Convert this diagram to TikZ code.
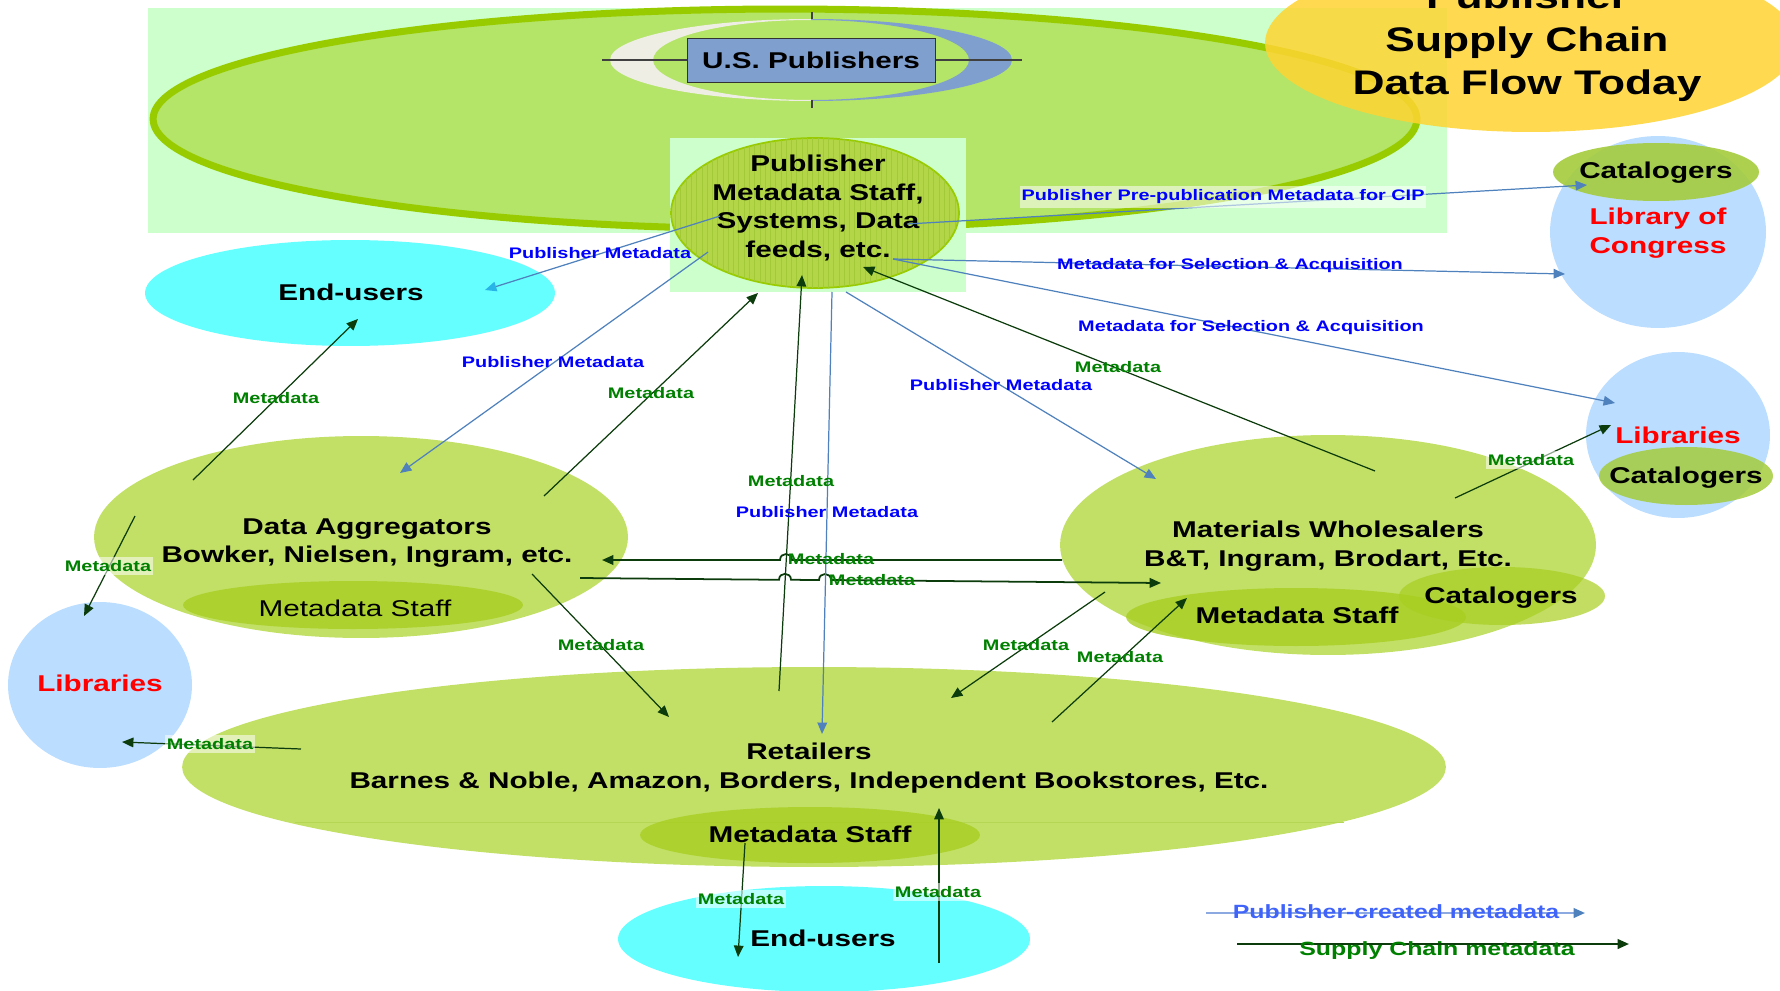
\documentclass[tikz,border=0pt]{standalone}
\usepackage{fontspec}
\setmainfont{Liberation Sans}[FakeStretch=1.3]
\usepackage{tikz}
\usetikzlibrary{shapes.geometric,arrows.meta,patterns}
\definecolor{bandgreen}{RGB}{204,255,204}
\definecolor{bigfill}{RGB}{180,228,104}
\definecolor{bigline}{RGB}{153,204,0}
\definecolor{pubfill}{RGB}{178,214,72}
\definecolor{pubhatch}{RGB}{162,202,56}
\definecolor{chainfill}{RGB}{194,223,102}
\definecolor{stafffill}{RGB}{168,206,32}
\definecolor{catfill}{RGB}{164,204,60}
\definecolor{userscyan}{RGB}{102,255,255}
\definecolor{libblue}{RGB}{187,221,255}
\definecolor{boxblue}{RGB}{127,159,207}
\definecolor{swooshwhite}{RGB}{238,238,228}
\definecolor{titleyellow}{RGB}{255,212,50}
\definecolor{blueline}{RGB}{79,129,189}
\definecolor{legendline}{RGB}{140,170,225}
\definecolor{greenline}{RGB}{12,60,12}
\definecolor{labelblue}{RGB}{0,0,255}
\definecolor{labelgreen}{RGB}{0,128,0}
\definecolor{legendblue}{RGB}{64,100,250}
\definecolor{headcyan}{RGB}{40,180,230}
\definecolor{seam}{RGB}{180,214,84}
\tikzstyle{blob}=[ellipse, inner sep=0pt, outer sep=0pt]
\tikzstyle{bigtext}=[font=\bfseries\fontsize{13}{16.4}\selectfont, align=center, inner sep=0pt]
\tikzstyle{plaintext}=[font=\fontsize{13}{16.4}\selectfont, inner sep=0pt]
\tikzstyle{legendtext}=[font=\bfseries\fontsize{10.9}{13}\selectfont, inner sep=0pt]
\tikzstyle{bluearrow}=[blueline, line width=0.7pt, -{Triangle[length=6.5pt, width=5.5pt]}]
\tikzstyle{greenarrow}=[greenline, line width=0.7pt, -{Triangle[length=6.5pt, width=5.5pt]}]
\tikzstyle{bluelabel}=[text=labelblue, font=\bfseries\fontsize{8.7}{10}\selectfont, inner xsep=1pt, inner ysep=2pt]
\tikzstyle{greenlabel}=[text=labelgreen, font=\bfseries\fontsize{8.7}{10}\selectfont, inner xsep=1pt, inner ysep=2pt]
\tikzstyle{lightbox}=[fill=white, fill opacity=0.55, text opacity=1]
\begin{document}
\begin{tikzpicture}[x=0.02cm, y=-0.02cm]
        \useasboundingbox (0,0) rectangle (1780,990);
        \fill[bandgreen] (148,8) rectangle (1447,233);
        \node[blob, draw=bigline, line width=4pt, fill=bigfill, minimum width=25.28cm, minimum height=4.4cm] (chain) at (785,119) {};
        \begin{scope}
            \clip (600,0) rectangle (811,130);
            \fill[swooshwhite, even odd rule] (811,60) ellipse (201 and 41) (811,60) ellipse (158 and 40);
        \end{scope}
        \begin{scope}
            \clip (811,0) rectangle (1030,130);
            \fill[boxblue, even odd rule] (811,60) ellipse (201 and 41) (811,60) ellipse (158 and 40);
        \end{scope}
        \draw[black!75, line width=0.7pt] (602,60) -- (1022,60);
        \draw[black!75, line width=0.7pt] (812,12) -- (812,19);
        \draw[black!75, line width=0.7pt] (812,100) -- (812,108);
        \node[draw=black!80, fill=boxblue, minimum width=4.96cm, minimum height=0.88cm, inner sep=0pt, font=\bfseries\fontsize{13}{16}\selectfont] (usPub) at (811,60) {U.S. Publishers};
        \fill[bandgreen] (670,138) rectangle (966,292);
        \node[blob, draw=bigline, line width=1pt, fill=pubfill, postaction={pattern=vertical lines, pattern color=pubhatch}, minimum width=5.76cm, minimum height=3cm] (pub) at (815,213) {};
        \node[blob, fill=titleyellow, fill opacity=0.85, minimum width=10.64cm, minimum height=3.56cm] (title) at (1531,43) {};
        \node[blob, fill=libblue, minimum width=4.32cm, minimum height=3.84cm] (loc) at (1658,232) {};
        \node[blob, fill=catfill, fill opacity=0.9, minimum width=4.12cm, minimum height=1.16cm] (locCat) at (1656,172) {};
        \node[blob, fill=userscyan, minimum width=8.2cm, minimum height=2.12cm] (endTop) at (350,293) {};
        \node[blob, fill=chainfill, minimum width=10.68cm, minimum height=4.04cm] (agg) at (361,537) {};
        \node[blob, fill=stafffill, fill opacity=0.8, minimum width=6.8cm, minimum height=0.96cm] (aggStaff) at (353,605) {};
        \node[blob, fill=libblue, minimum width=3.68cm, minimum height=3.32cm] (libLeft) at (100,685) {};
        \node[blob, fill=chainfill, minimum width=10.72cm, minimum height=4.4cm] (whole) at (1328,545) {};
        \node[blob, fill=stafffill, fill opacity=0.8, minimum width=6.8cm, minimum height=1.16cm] (wholeStaff) at (1296,617) {};
        \node[blob, fill=stafffill, fill opacity=0.7, minimum width=4.12cm, minimum height=1.16cm] (wholeCat) at (1502,596) {};
        \node[blob, fill=libblue, minimum width=3.68cm, minimum height=3.32cm] (libRight) at (1678,435) {};
        \node[blob, fill=catfill, fill opacity=0.85, minimum width=3.48cm, minimum height=1.16cm] (libRightCat) at (1686,476) {};
        \node[blob, fill=chainfill, minimum width=25.28cm, minimum height=4cm] (retail) at (814,767) {};
        \draw[seam, line width=0.5pt] (295,822) -- (1344,822);
        \node[blob, fill=stafffill, fill opacity=0.8, minimum width=6.8cm, minimum height=1.12cm] (retailStaff) at (810,835) {};
        \node[blob, fill=userscyan, minimum width=8.24cm, minimum height=2.12cm] (endBottom) at (824,939) {};
        \node[font=\bfseries\fontsize{19.4}{24.4}\selectfont, align=center, inner sep=0pt] (titleText) at (1527,43) {Publisher\\Supply Chain\\Data Flow Today};
        \node[bigtext] (pubText) at (818,208) {Publisher\\Metadata Staff,\\Systems, Data\\feeds, etc.};
        \node[bigtext, text=red] (locText) at (1658,233) {Library of\\Congress};
        \node[bigtext, anchor=base] (locCatText) at (1656,178) {Catalogers};
        \node[bigtext, anchor=base] (endTopText) at (351,300) {End-users};
        \node[bigtext] (aggText) at (367,543) {Data Aggregators\\Bowker, Nielsen, Ingram, etc.};
        \node[plaintext, anchor=base] (aggStaffText) at (355,616) {Metadata Staff};
        \node[bigtext, anchor=base, text=red] (libLeftText) at (100,691) {Libraries};
        \node[bigtext] (wholeText) at (1328,546) {Materials Wholesalers\\B\&T, Ingram, Brodart, Etc.};
        \node[bigtext, anchor=base] (wholeStaffText) at (1297,623) {Metadata Staff};
        \node[bigtext, anchor=base] (wholeCatText) at (1501,603) {Catalogers};
        \node[bigtext, anchor=base, text=red] (libRightText) at (1678,443) {Libraries};
        \node[bigtext, anchor=base] (libRightCatText) at (1686,483) {Catalogers};
        \node[bigtext] (retailText) at (809,768) {Retailers\\Barnes \& Noble, Amazon, Borders, Independent Bookstores, Etc.};
        \node[bigtext, anchor=base] (retailStaffText) at (810,842) {Metadata Staff};
        \node[bigtext, anchor=base] (endBottomText) at (823,946) {End-users};
        \coordinate (pubA) at (720,216);
        \coordinate (pubB) at (708,252);
        \coordinate (pubC) at (758,293);
        \coordinate (pubD) at (802,275);
        \coordinate (pubE) at (832,292);
        \coordinate (pubF) at (846,292);
        \coordinate (pubG) at (863,267);
        \coordinate (pubH) at (907,224);
        \coordinate (pubI) at (893,259);
        \coordinate (endTopIn) at (485,290);
        \coordinate (endTopOut) at (358,319);
        \coordinate (aggA) at (400,473);
        \coordinate (aggB) at (544,496);
        \coordinate (aggC) at (193,480);
        \coordinate (aggD) at (135,516);
        \coordinate (aggE) at (602,560);
        \coordinate (aggF) at (580,578);
        \coordinate (aggG) at (532,574);
        \coordinate (libLeftA) at (84,616);
        \coordinate (libLeftB) at (122,742);
        \coordinate (wholeA) at (1062,560);
        \coordinate (wholeB) at (1161,583);
        \coordinate (wholeC) at (1156,479);
        \coordinate (wholeD) at (1375,471);
        \coordinate (wholeE) at (1455,498);
        \coordinate (wholeF) at (1105,592);
        \coordinate (wholeG) at (1187,598);
        \coordinate (locCatIn) at (1587,185);
        \coordinate (locIn) at (1565,274);
        \coordinate (libRightA) at (1615,403);
        \coordinate (libRightB) at (1611,425);
        \coordinate (retailA) at (779,691);
        \coordinate (retailB) at (822,734);
        \coordinate (retailC) at (669,717);
        \coordinate (retailD) at (951,698);
        \coordinate (retailE) at (1052,722);
        \coordinate (retailF) at (301,749);
        \coordinate (retailG) at (939,808);
        \coordinate (retailStaffOut) at (745,843);
        \coordinate (endBottomIn) at (738,957);
        \coordinate (endBottomOut) at (939,963);
        \draw[bluearrow, -{Triangle[length=6.5pt, width=5.5pt, color=headcyan]}] (pubA) -- (endTopIn);
        \draw[bluearrow] (pubB) -- (aggA);
        \draw[greenarrow] (aggB) -- (pubC);
        \draw[greenarrow] (aggC) -- (endTopOut);
        \draw[greenarrow] (aggD) -- (libLeftA);
        \draw[greenarrow, line width=1pt] (wholeA) -- (792,560) .. controls (792,552) and (780,552) .. (780,560) -- (aggE);
        \draw[greenarrow, line width=1pt] (aggF) -- (779,579.8) .. controls (779,571.8) and (791,571.8) .. (791,579.8) -- (819,580) .. controls (819,572) and (831,572) .. (831,580) -- (wholeB);
        \draw[greenarrow] (retailA) -- (pubD);
        \draw[bluearrow] (pubE) -- (retailB);
        \draw[bluearrow] (pubF) -- (wholeC);
        \draw[greenarrow] (wholeD) -- (pubG);
        \draw[bluearrow] (pubH) -- (locCatIn);
        \draw[bluearrow] (pubI) -- (locIn);
        \draw[bluearrow] (pubI) -- (libRightA);
        \draw[greenarrow] (wholeE) -- (libRightB);
        \draw[greenarrow] (aggG) -- (retailC);
        \draw[greenarrow] (wholeF) -- (retailD);
        \draw[greenarrow] (retailE) -- (wholeG);
        \draw[greenarrow] (retailF) -- (libLeftB);
        \draw[greenarrow] (retailStaffOut) -- (endBottomIn);
        \draw[greenarrow] (endBottomOut) -- (retailG);
        \node[bluelabel] (lblPubEnd) at (600,253) {Publisher Metadata};
        \node[bluelabel] (lblPubAgg) at (553,362) {Publisher Metadata};
        \node[greenlabel] (lblAggPub) at (651,393) {Metadata};
        \node[greenlabel] (lblAggEnd) at (276,398) {Metadata};
        \node[greenlabel, lightbox] (lblAggLib) at (108,566) {Metadata};
        \node[greenlabel] (lblWholeAgg) at (831,559) {Metadata};
        \node[greenlabel] (lblAggWhole) at (872,580) {Metadata};
        \node[greenlabel] (lblRetailPub) at (791,481) {Metadata};
        \node[bluelabel] (lblPubRetail) at (827,512) {Publisher Metadata};
        \node[bluelabel] (lblPubWhole) at (1001,385) {Publisher Metadata};
        \node[greenlabel] (lblWholePub) at (1118,367) {Metadata};
        \node[bluelabel, lightbox] (lblCip) at (1223,197) {Publisher Pre-publication Metadata for CIP};
        \node[bluelabel] (lblSelLoc) at (1230,266) {Metadata for Selection \& Acquisition};
        \node[bluelabel] (lblSelLib) at (1251,328) {Metadata for Selection \& Acquisition};
        \node[greenlabel, lightbox] (lblWholeLib) at (1531,460) {Metadata};
        \node[greenlabel] (lblAggRetail) at (601,645) {Metadata};
        \node[greenlabel] (lblWholeRetail) at (1026,645) {Metadata};
        \node[greenlabel] (lblRetailWhole) at (1120,657) {Metadata};
        \node[greenlabel, lightbox] (lblRetailLib) at (210,744) {Metadata};
        \node[greenlabel, lightbox] (lblStaffEnd) at (741,899) {Metadata};
        \node[greenlabel, lightbox] (lblEndRetail) at (938,892) {Metadata};
        \coordinate (legBlueA) at (1206,913);
        \coordinate (legBlueB) at (1585,913);
        \coordinate (legGreenA) at (1237,944);
        \coordinate (legGreenB) at (1629,944);
        \draw[legendline, line width=1.2pt, -{Triangle[length=6.5pt, width=5.5pt, color=blueline]}] (legBlueA) -- (legBlueB);
        \draw[greenarrow, line width=1.2pt] (legGreenA) -- (legGreenB);
        \node[legendtext, text=legendblue, anchor=base] (legBlueText) at (1396,918) {Publisher-created metadata};
        \node[legendtext, text=labelgreen, anchor=base] (legGreenText) at (1437,955) {Supply Chain metadata};
\end{tikzpicture}
\end{document}
